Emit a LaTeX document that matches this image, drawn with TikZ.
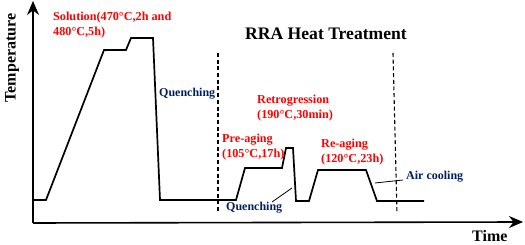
\documentclass[tikz,border=0pt]{standalone}
\usepackage{fontspec}
\setmainfont{Liberation Serif}
\usetikzlibrary{arrows.meta}
\definecolor{lblred}{RGB}{255,0,0}
\definecolor{lblnavy}{RGB}{0,32,96}
\begin{document}
\begin{tikzpicture}[x=1pt,y=-1pt,
  redlbl/.style={text=lblred, font=\bfseries\fontsize{12.2}{15}\selectfont, inner sep=0pt, anchor=west, align=left},
  navylbl/.style={text=lblnavy, font=\bfseries\fontsize{12}{15}\selectfont, inner sep=0pt, anchor=west},
  axislbl/.style={font=\bfseries\fontsize{16}{18}\selectfont, inner sep=0pt},
  axisline/.style={line width=1.6pt, -{Stealth[length=14pt,width=12pt]}},
  curveline/.style={line width=1.7pt, line join=miter},
  divider/.style={line width=1.1pt, dash pattern=on 4pt off 2.7pt},
  leader/.style={line width=0.8pt}]
\useasboundingbox (0,0) rectangle (525,245);
% axes
\coordinate (origin) at (33,223);
\coordinate (ytip) at (33,1);
\coordinate (xtip) at (523,222);
\draw[axisline] (origin) -- (ytip);
\draw[axisline] (origin) -- (xtip);
% curve
\draw[curveline] (33,200) -- (46,200) -- (104,50) -- (126,50) -- (131,38) -- (153,38)
  -- (160,200) -- (236,200) -- (245,168) -- (282,168) -- (286,148) -- (293,148)
  -- (296,201) -- (309,201) -- (318,170) -- (366,170) -- (377,201) -- (424,201);
% dividers
\coordinate (d1top) at (218,53);
\coordinate (d1bot) at (218,213);
\coordinate (d2top) at (393,53);
\coordinate (d2bot) at (397,213);
\draw[divider] (d1top) -- (d1bot);
\draw[divider] (d2top) -- (d2bot);
% labels
\node[axislbl, rotate=90] (temp) at (12,58) {Temperature};
\node[axislbl, anchor=base west] (time) at (472,242) {Time};
\node[font=\bfseries\fontsize{17.6}{20}\selectfont, inner sep=0pt, anchor=west] (title) at (245,34) {RRA Heat Treatment};
\node[redlbl] (sol) at (53,25) {Solution(470°C,2h and\\480°C,5h)};
\node[redlbl] (retro) at (257,108.5) {Retrogression\\(190°C,30min)};
\node[redlbl] (pre) at (222,147) {Pre-aging\\(105°C,17h)};
\node[redlbl] (re) at (321,152.5) {Re-aging\\(120°C,23h)};
\node[navylbl] (q1) at (159,94) {Quenching};
\node[navylbl] (q2) at (226,208) {Quenching};
\node[navylbl] (air) at (406,177) {Air cooling};
% leaders
\coordinate (q2a) at (272,202);
\coordinate (q2b) at (292,188);
\draw[leader] (q2a) -- (q2b);
\coordinate (aira) at (375,183);
\coordinate (airb) at (403,180);
\draw[leader] (aira) -- (airb);
\end{tikzpicture}
\end{document}
